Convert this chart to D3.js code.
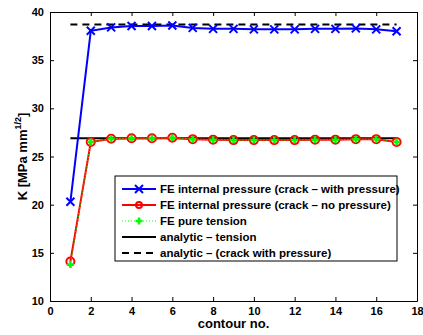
<html>
<head>
<meta charset="utf-8">
<style>
  body { margin: 0; background: #fff; }
  text { font-family: "Liberation Sans", Arial, sans-serif; font-weight: bold; }
</style>
</head>
<body>
<script src="https://d3js.org/d3.v7.min.js"></script>
<script>
// data
var contour = [1,2,3,4,5,6,7,8,9,10,11,12,13,14,15,16,17];
var kWithPressure = [20.3,38.05,38.4,38.55,38.55,38.6,38.35,38.25,38.25,38.2,38.2,38.2,38.25,38.25,38.3,38.2,38.0];
var kNoPressure   = [14.1,26.5,26.85,26.9,26.9,26.95,26.8,26.75,26.7,26.7,26.7,26.7,26.75,26.75,26.8,26.8,26.5];
var kTension      = [13.8,26.5,26.85,26.9,26.9,26.95,26.8,26.75,26.7,26.7,26.7,26.7,26.75,26.75,26.8,26.8,26.5];
var analyticTension = 26.9;
var analyticPressure = 38.7;
var xTicks = [0,2,4,6,8,10,12,14,16,18];
var yTicks = [10,15,20,25,30,35,40];
var legendLabels = [
  "FE internal pressure (crack \u2013 with pressure)",
  "FE internal pressure (crack \u2013 no pressure)",
  "FE pure tension",
  "analytic \u2013 tension",
  "analytic \u2013 (crack with pressure)"
];

var W = 423, H = 335;
var m = {left: 50, right: 6, top: 12, bottom: 34};
var svg = d3.select("body").append("svg").attr("width", W).attr("height", H);

var x = d3.scaleLinear().domain([0,18]).range([m.left, W - m.right]);
var y = d3.scaleLinear().domain([10,40]).range([H - m.bottom, m.top]);

var g = svg.append("g");

// axes with inward ticks, mirrored on top/right
var tl = 4;
g.append("g").attr("transform", "translate(0," + y(10) + ")")
  .call(d3.axisBottom(x).tickValues(xTicks).tickSizeInner(-tl).tickSizeOuter(0).tickPadding(6));
g.append("g").attr("transform", "translate(0," + y(40) + ")")
  .call(d3.axisTop(x).tickValues(xTicks).tickSizeInner(-tl).tickSizeOuter(0).tickFormat(""));
g.append("g").attr("transform", "translate(" + x(0) + ",0)")
  .call(d3.axisLeft(y).tickValues(yTicks).tickSizeInner(-tl).tickSizeOuter(0).tickPadding(6));
g.append("g").attr("transform", "translate(" + x(18) + ",0)")
  .call(d3.axisRight(y).tickValues(yTicks).tickSizeInner(-tl).tickSizeOuter(0).tickFormat(""));
g.selectAll(".domain").attr("stroke", "#000").attr("stroke-width", 1);
g.selectAll(".tick line").attr("stroke", "#000");
g.selectAll(".tick text").attr("font-size", 11).attr("font-weight", "bold").attr("fill", "#000")
  .attr("font-family", "Liberation Sans, Arial, sans-serif");

// axis labels
svg.append("text").attr("x", x(9)).attr("y", H - 7).attr("text-anchor", "middle")
  .attr("font-size", 13).text("contour no.");
var yl = svg.append("text").attr("transform", "translate(27," + y(25) + ") rotate(-90)")
  .attr("text-anchor", "middle").attr("font-size", 13);
yl.append("tspan").text("K [MPa mm");
yl.append("tspan").attr("font-size", 9).attr("dy", -6).text("1/2");
yl.append("tspan").attr("dy", 6).text("]");

var line = d3.line().x(function(d){ return x(d[0]); }).y(function(d){ return y(d[1]); });
function pts(vals){ return contour.map(function(c,i){ return [c, vals[i]]; }); }

// analytic lines
g.append("path").attr("d", line([[1, analyticPressure],[17, analyticPressure]]))
  .attr("fill", "none").attr("stroke", "#000").attr("stroke-width", 2).attr("stroke-dasharray", "7,5");
g.append("path").attr("d", line([[1, analyticTension],[17, analyticTension]]))
  .attr("fill", "none").attr("stroke", "#000").attr("stroke-width", 2);

// blue series
g.append("path").attr("d", line(pts(kWithPressure)))
  .attr("fill", "none").attr("stroke", "#0000ff").attr("stroke-width", 2);
function cross(sel, cx, cy, r, col){
  sel.append("path").attr("d", "M" + (cx-r) + "," + (cy-r) + "L" + (cx+r) + "," + (cy+r) +
    "M" + (cx-r) + "," + (cy+r) + "L" + (cx+r) + "," + (cy-r))
    .attr("stroke", col).attr("stroke-width", 2);
}
pts(kWithPressure).forEach(function(p){ cross(g, x(p[0]), y(p[1]), 4, "#0000ff"); });

// red series
g.append("path").attr("d", line(pts(kNoPressure)))
  .attr("fill", "none").attr("stroke", "#ff0000").attr("stroke-width", 2);
g.selectAll("circle.red").data(pts(kNoPressure)).join("circle").attr("class", "red")
  .attr("cx", function(d){ return x(d[0]); }).attr("cy", function(d){ return y(d[1]); })
  .attr("r", 4).attr("fill", "none").attr("stroke", "#ff0000").attr("stroke-width", 2);

// green series
g.append("path").attr("d", line(pts(kTension)))
  .attr("fill", "none").attr("stroke", "#00ff00").attr("stroke-width", 1).attr("stroke-dasharray", "1,2");
function plus(sel, cx, cy, r, col){
  sel.append("path").attr("d", "M" + (cx-r) + "," + cy + "L" + (cx+r) + "," + cy +
    "M" + cx + "," + (cy-r) + "L" + cx + "," + (cy+r))
    .attr("stroke", col).attr("stroke-width", 2.5);
}
pts(kTension).forEach(function(p){ plus(g, x(p[0]), y(p[1]), 3.5, "#00ff00"); });

// legend
var lg = svg.append("g").attr("transform", "translate(115,176)");
lg.append("rect").attr("width", 282).attr("height", 85).attr("fill", "#fff")
  .attr("stroke", "#000").attr("stroke-width", 1);
var rowY = function(i){ return 13 + i * 16; };
legendLabels.forEach(function(t, i){
  lg.append("text").attr("x", 45).attr("y", rowY(i) + 4).attr("font-size", 11.5).text(t);
});
var l0 = 7, l1 = 41, lm = 24;
lg.append("line").attr("x1", l0).attr("x2", l1).attr("y1", rowY(0)).attr("y2", rowY(0))
  .attr("stroke", "#0000ff").attr("stroke-width", 2);
cross(lg, lm, rowY(0), 4, "#0000ff");
lg.append("line").attr("x1", l0).attr("x2", l1).attr("y1", rowY(1)).attr("y2", rowY(1))
  .attr("stroke", "#ff0000").attr("stroke-width", 2);
lg.append("circle").attr("cx", lm).attr("cy", rowY(1)).attr("r", 3).attr("fill", "none")
  .attr("stroke", "#ff0000").attr("stroke-width", 2);
lg.append("line").attr("x1", l0).attr("x2", l1).attr("y1", rowY(2)).attr("y2", rowY(2))
  .attr("stroke", "#00ff00").attr("stroke-width", 1).attr("stroke-dasharray", "1,2");
plus(lg, lm, rowY(2), 3.5, "#00ff00");
lg.append("line").attr("x1", l0).attr("x2", l1).attr("y1", rowY(3)).attr("y2", rowY(3))
  .attr("stroke", "#000").attr("stroke-width", 2);
lg.append("line").attr("x1", l0).attr("x2", l1).attr("y1", rowY(4)).attr("y2", rowY(4))
  .attr("stroke", "#000").attr("stroke-width", 2).attr("stroke-dasharray", "7,5");
</script>
</body>
</html>
